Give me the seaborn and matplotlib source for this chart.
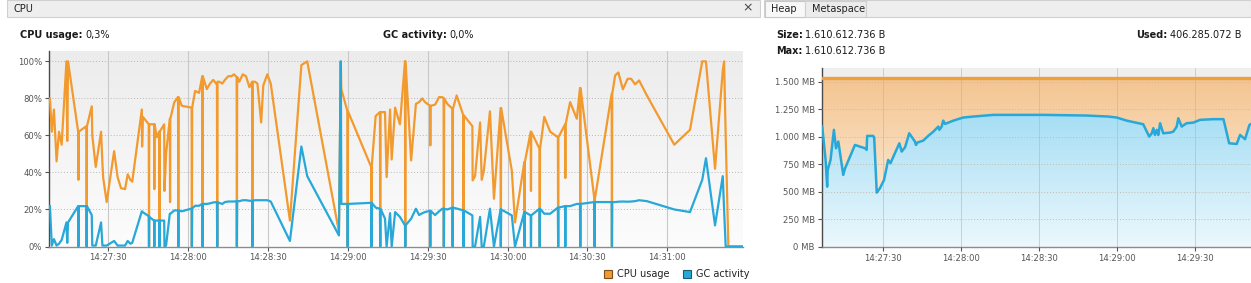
import numpy as np
import pandas as pd
import matplotlib
matplotlib.use("Agg")
import matplotlib.pyplot as plt
import seaborn as sns
from matplotlib.patches import Rectangle, Patch
from matplotlib.colors import LinearSegmentedColormap

# ---------------- data (seconds after 14:27:00) ----------------
cpu_time = [8.2, 8.9, 9.7, 10.7, 11.6, 12.6, 14.4, 14.7, 15.0, 18.8, 18.9, 19.0, 21.9, 22.0, 22.1,
            23.9, 24.1, 25.4, 27.4, 27.9, 28.2, 29.5, 32.3, 33.6, 34.9, 36.4, 37.4, 38.4, 39.1,
            42.7, 42.8, 43.1, 45.3, 45.4, 45.5, 47.3, 47.4, 47.5, 48.3, 49.2, 49.3, 49.4, 51.1, 51.2,
            51.8, 53.2, 53.3, 53.4, 54.9, 56.3, 56.4, 56.5, 57.7, 61.4, 61.5, 61.6, 62.7, 64.2, 65.4,
            65.5, 65.6, 66.0, 67.1, 68.3, 69.5, 70.6, 70.9, 71.0, 71.1, 71.8, 72.9, 73.9, 75.2, 76.4,
            77.3, 78.3, 78.4, 78.5, 79.3, 80.6, 81.8, 83.1, 84.1, 84.2, 84.3, 85.2, 86.1, 87.5, 88.3,
            89.8, 91.1, 98.3, 102.6, 104.8, 116.7, 117.4, 117.6, 119.9, 120.0, 120.1, 128.8, 128.9,
            129.0, 130.5, 132.1, 132.2, 132.3, 134.0, 134.6, 135.9, 136.5, 137.8, 139.6, 141.5, 141.6,
            141.7, 143.8, 145.6, 146.8, 148.0, 149.0, 150.9, 151.0, 151.1, 152.8, 154.3, 155.5, 156.0,
            156.1, 156.2, 157.4, 159.3, 159.4, 159.5, 160.9, 163.4, 163.5, 163.6, 166.8, 166.9, 167.8,
            169.7, 170.3, 171.1, 173.4, 174.9, 177.4, 177.5, 177.6, 181.6, 182.8, 186.3, 186.4, 186.5,
            188.7, 188.8, 188.9, 192.0, 192.1, 192.2, 193.8, 196.0, 198.9, 199.0, 199.1, 201.6, 201.7,
            201.8, 203.5, 206.0, 207.2, 207.3, 207.4, 212.6, 212.7, 212.8, 219.1, 219.2, 219.3, 220.4,
            221.6, 223.3, 225.1, 226.4, 227.9, 229.4, 232.3, 242.6, 248.5, 253.1, 254.5, 257.9, 260.8,
            261.3, 261.9, 262.9, 268.5]
cpu_usage = [80, 62, 74, 46, 62, 55, 100, 57, 100, 62, 36, 62, 65, 0, 65,
             75.7, 60, 43, 62, 45, 37, 24, 51.5, 37.5, 31.5, 31, 39, 36, 35,
             74, 54, 70, 66, 0, 66, 66, 31, 66, 59, 62, 0, 62, 66, 30,
             50, 69, 24, 69, 78, 80.7, 0, 80.7, 76, 75, 0, 75, 84, 83, 92,
             0, 92, 90, 85, 88, 90, 88, 88, 0, 89, 89, 88, 90, 92, 92,
             93, 91.5, 0, 91.5, 89, 93, 92, 86, 89, 0, 89, 89, 88, 67, 87,
             93, 88, 14, 98, 100, 8, 100, 85, 73, 0, 73, 43, 0,
             43, 70.5, 72.6, 0, 72.6, 72.6, 37.5, 74, 47, 75, 66, 100, 0,
             100, 46.5, 77, 78, 80, 78, 76, 54.6, 76, 76.6, 80.7, 80.7, 80,
             0, 80, 77, 74.4, 0, 74.4, 81.6, 70.8, 0, 70.8, 65, 35.7, 38,
             67, 36, 41, 73, 25.8, 74.8, 0, 74.8, 41, 13, 45.6, 0, 45.6,
             62, 30, 62, 52.8, 0, 52.8, 70, 62, 59, 0, 59, 66, 37,
             66, 78, 69, 85.6, 0, 85.6, 25.8, 0, 25.8, 82.5, 0, 82.5, 92.4,
             94, 84.9, 90.6, 90.6, 87.6, 89.7, 81.6, 55, 63, 100, 100, 42, 95,
             100, 60, 0, 0]
gc_activity = [22, 0.5, 4, 0.5, 1.5, 3.5, 13, 2, 13, 21.8, 0, 21.8, 21.8, 0, 21.8,
               17, 0.5, 0.5, 13, 0.5, 0.5, 0.5, 3, 0.5, 0.5, 0.5, 3, 1.5, 2,
               19, 19, 18.5, 16.4, 0, 16, 14, 0, 14, 14, 14, 0, 14, 14, 0,
               0.5, 17.7, 17.7, 17.7, 19.5, 19.5, 0, 19.5, 19, 20.5, 0, 20.5, 22, 22, 23,
               0, 23, 23, 23, 23.3, 23.8, 24, 24, 0, 24, 23.5, 23, 24, 24.3, 24.3,
               24.3, 24.5, 0, 24.5, 24.5, 25, 25, 24.7, 24.7, 0, 24.7, 25, 25, 25, 25,
               25, 24.3, 3, 54, 38, 6, 100, 23, 23, 0, 23, 23.6, 0,
               23.6, 21, 20.4, 0, 20.4, 15, 0, 18, 0, 18.6, 16, 11.4, 0,
               11.4, 15, 20.4, 17, 18, 18.6, 19.3, 0, 19.3, 17, 19, 20.4, 20.4,
               0, 20.4, 20, 21, 0, 21, 20.5, 19.5, 0, 19.5, 16.8, 0, 0,
               16, 0, 0, 20.4, 0, 20, 0, 20, 16.8, 0, 18.6, 0, 18.6,
               16.8, 0, 16.8, 20.4, 0, 20.4, 17.7, 17.7, 21, 0, 21, 21.8, 0,
               21.8, 21.8, 23, 23, 0, 23, 24, 0, 24, 24, 0, 24, 24,
               24.2, 24.3, 24.2, 24.3, 24.5, 25, 24.5, 20, 18.6, 36, 47.7, 11.4, 38,
               20, 0, 0, 0]
cpu_tick_seconds = [30, 60, 90, 120, 150, 180, 210, 240]
cpu_tick_labels = ["14:27:30", "14:28:00", "14:28:30", "14:29:00",
                   "14:29:30", "14:30:00", "14:30:30", "14:31:00"]
cpu_ytick_values = [0, 20, 40, 60, 80, 100]
cpu_ytick_labels = ["0%", "20%", "40%", "60%", "80%", "100%"]

heap_time = [6.5, 7.8, 8.4, 8.6, 9.7, 11.0, 11.8, 12.7, 14.6, 15.3, 19.1, 21.0, 23.0, 23.6, 23.8,
             26.1, 26.5, 27.5, 28.7, 30.3, 31.9, 32.8, 33.9, 36.2, 37.1, 38.4, 40.0, 42.2, 42.6,
             43.1, 45.4, 47.3, 49.3, 51.2, 51.6, 52.5, 53.1, 53.8, 57.0, 60.8, 64.7, 72.4, 91.6,
             108.3, 116.6, 119.9, 123.7, 130.1, 132.4, 133.4, 134.0, 134.6, 135.3, 135.9, 136.6,
             137.8, 140.4, 141.7, 143.0, 143.6, 144.9, 146.8, 149.4, 152.0, 157.1, 161.0, 163.2,
             166.1, 167.4, 169.3, 171.0, 171.6]
heap_used_mb = [1091, 788, 545, 697, 788, 1061, 894, 955, 652, 712, 924, 909, 894, 879, 1006,
                1006, 994, 491, 530, 606, 788, 758, 818, 939, 864, 903, 1030, 955, 924,
                945, 964, 1006, 1045, 1091, 1061, 1091, 1145, 1115, 1145, 1173, 1182, 1197, 1197,
                1191, 1182, 1173, 1145, 1112, 1000, 1030, 1076, 1015, 1061, 1015, 1121,
                1030, 1036, 1045, 1091, 1167, 1091, 1121, 1127, 1152, 1158, 1158, 939,
                933, 1015, 976, 1106, 1115]
heap_size_mb = 1536
heap_tick_seconds = [30, 60, 90, 120, 150]
heap_tick_labels = ["14:27:30", "14:28:00", "14:28:30", "14:29:00", "14:29:30"]
heap_ytick_values = [0, 250, 500, 750, 1000, 1250, 1500]
heap_ytick_labels = ["0 MB", "250 MB", "500 MB", "750 MB", "1.000 MB", "1.250 MB", "1.500 MB"]

# ---------------- style ----------------
ORANGE = "#f29a2e"
BLUE = "#27a8d8"
W, H = 1251, 283
FS = 7.0
TFS = 6.1

sns.set_style("white")
plt.rcParams['font.family'] = ['DejaVu Sans']

fig = plt.figure(figsize=(W / 100, H / 100), dpi=100)
fig.patch.set_facecolor("white")


def fx(px):
    return px / W


def fy(py):
    return 1 - py / H


def rect(x0, y0, x1, y1, fc, ec="none", lw=0.8, z=0):
    fig.add_artist(Rectangle((fx(x0), fy(y1)), (x1 - x0) / W, (y1 - y0) / H,
                             transform=fig.transFigure, facecolor=fc, edgecolor=ec,
                             linewidth=lw, zorder=z))


# header strips
rect(7, 0, 760, 17, "#eeeeee", "#d0d0d0")
rect(764, 0, 1251, 17, "#eeeeee", "#d0d0d0")
rect(765, 1, 805, 17, "#f8f8f8", "#c8c8c8")
rect(805, 1, 866, 17, "#ececec", "#d0d0d0")
fig.text(fx(14), fy(8.5), "CPU", fontsize=FS, va="center", color="#222222")
fig.text(fx(748), fy(8), "×", fontsize=9, va="center", ha="center", color="#444444")
fig.text(fx(771), fy(8.5), "Heap", fontsize=FS, va="center", color="#222222")
fig.text(fx(812), fy(8.5), "Metaspace", fontsize=FS, va="center", color="#222222")

renderer = fig.canvas.get_renderer()


def label_pair(x_px, y_px, bold, normal, right=False):
    kw = dict(fontsize=FS, va="center", color="#1a1a1a")
    if not right:
        t1 = fig.text(fx(x_px), fy(y_px), bold, fontweight="bold", **kw)
        w1 = t1.get_window_extent(renderer=renderer).width
        fig.text(fx(x_px + w1 + 2.5), fy(y_px), normal, **kw)
    else:
        t2 = fig.text(fx(x_px), fy(y_px), normal, ha="right", **kw)
        w2 = t2.get_window_extent(renderer=renderer).width
        fig.text(fx(x_px - w2 - 2.5), fy(y_px), bold, ha="right", fontweight="bold", **kw)


label_pair(20, 35, "CPU usage:", "0,3%")
label_pair(383, 35, "GC activity:", "0,0%")
label_pair(776, 35, "Size:", "1.610.612.736 B")
label_pair(776, 51, "Max:", "1.610.612.736 B")
label_pair(1241, 35, "Used:", "406.285.072 B", right=True)


def style_axes(ax):
    for s in ["top", "right"]:
        ax.spines[s].set_visible(False)
    ax.spines["left"].set_color("#4a4a4a")
    ax.spines["left"].set_linewidth(1.0)
    ax.spines["bottom"].set_color("#8c8c8c")
    ax.spines["bottom"].set_linewidth(1.0)
    ax.tick_params(axis="both", labelsize=TFS, colors="#555555", length=3, width=0.8, pad=2,
                   left=True, bottom=True)
    ax.xaxis.grid(True, color="#c8c8c8", lw=0.8, ls="-")
    ax.yaxis.grid(True, color="#b8b8b8", lw=0.7, ls=(0, (1, 2)))
    ax.set_axisbelow(True)
    ax.set_xlabel("")
    ax.set_ylabel("")


# ---------------- CPU chart ----------------
ax1 = fig.add_axes([fx(49), fy(246.5), (743 - 49) / W, (246.5 - 51) / H])
bg = LinearSegmentedColormap.from_list("bg", ["#fcfcfc", "#ececec"])
ax1.imshow(np.linspace(0, 1, 128).reshape(-1, 1), extent=[0, 1, 0, 1], origin="lower",
           transform=ax1.transAxes, aspect="auto", cmap=bg, zorder=-1)

cpu_df = pd.DataFrame({"t": cpu_time, "cpu": cpu_usage, "gc": gc_activity})
sns.lineplot(data=cpu_df, x="t", y="cpu", ax=ax1, color=ORANGE, lw=1.6,
             estimator=None, sort=False, zorder=3)
sns.lineplot(data=cpu_df, x="t", y="gc", ax=ax1, color=BLUE, lw=1.6,
             estimator=None, sort=False, zorder=4)
ax1.set_xlim(7.85, 268.4)
ax1.set_ylim(0, 105.6)
ax1.set_xticks(cpu_tick_seconds)
ax1.set_xticklabels(cpu_tick_labels)
ax1.set_yticks(cpu_ytick_values)
ax1.set_yticklabels(cpu_ytick_labels)
style_axes(ax1)

fig.legend(handles=[Patch(facecolor=ORANGE, edgecolor="#7a5020", lw=0.8, label="CPU usage"),
                    Patch(facecolor=BLUE, edgecolor="#1d5a72", lw=0.8, label="GC activity")],
           loc="lower right", bbox_to_anchor=(fx(749), fy(279)), ncol=2, frameon=False,
           fontsize=FS, handlelength=0.85, handleheight=0.85, handletextpad=0.45,
           columnspacing=1.4, borderpad=0, borderaxespad=0, labelcolor="#222222")

# ---------------- Heap chart ----------------
ax2 = fig.add_axes([fx(821.7), fy(246.7), (W - 821.7) / W, (246.7 - 68.3) / H])
ax2.set_facecolor("#efefef")
xmin, xmax = 6.3, 171.6
ymax = 1620

heap_df = pd.DataFrame({"t": heap_time, "used": heap_used_mb})

blue_fill = ax2.fill_between(heap_df["t"], 0, heap_df["used"], color="none", lw=0)
orange_fill = ax2.fill_between(heap_df["t"], heap_df["used"], heap_size_mb, color="none", lw=0)
grad = np.linspace(0, 1, 256).reshape(-1, 1)
cm_blue = LinearSegmentedColormap.from_list("b", ["#ecf8fd", "#a6def4"])
cm_orange = LinearSegmentedColormap.from_list("o", ["#fbe6cf", "#f4c48f"])
im_b = ax2.imshow(grad, extent=[xmin, xmax, 0, 1200], origin="lower", aspect="auto",
                  cmap=cm_blue, zorder=1)
im_b.set_clip_path(blue_fill.get_paths()[0], transform=ax2.transData)
im_o = ax2.imshow(grad, extent=[xmin, xmax, 500, heap_size_mb], origin="lower", aspect="auto",
                  cmap=cm_orange, zorder=1)
im_o.set_clip_path(orange_fill.get_paths()[0], transform=ax2.transData)

ax2.axhline(heap_size_mb, color="#ef9f3c", lw=2.4, zorder=3)
sns.lineplot(data=heap_df, x="t", y="used", ax=ax2, color=BLUE, lw=1.8,
             estimator=None, sort=False, zorder=4)
ax2.set_xlim(xmin, xmax)
ax2.set_ylim(0, ymax)
ax2.set_xticks(heap_tick_seconds)
ax2.set_xticklabels(heap_tick_labels)
ax2.set_yticks(heap_ytick_values)
ax2.set_yticklabels(heap_ytick_labels)
style_axes(ax2)
ax2.yaxis.grid(True, color="#c9b9a6", lw=0.7, ls=(0, (1, 2)))
for gl in ax2.get_xgridlines() + ax2.get_ygridlines():
    gl.set_zorder(2)
ax2.set_axisbelow(False)
ax2.xaxis.grid(True, color="#b5b5b5", lw=0.7, ls="-", alpha=0.6)

fig.savefig("out.png", dpi=100)
